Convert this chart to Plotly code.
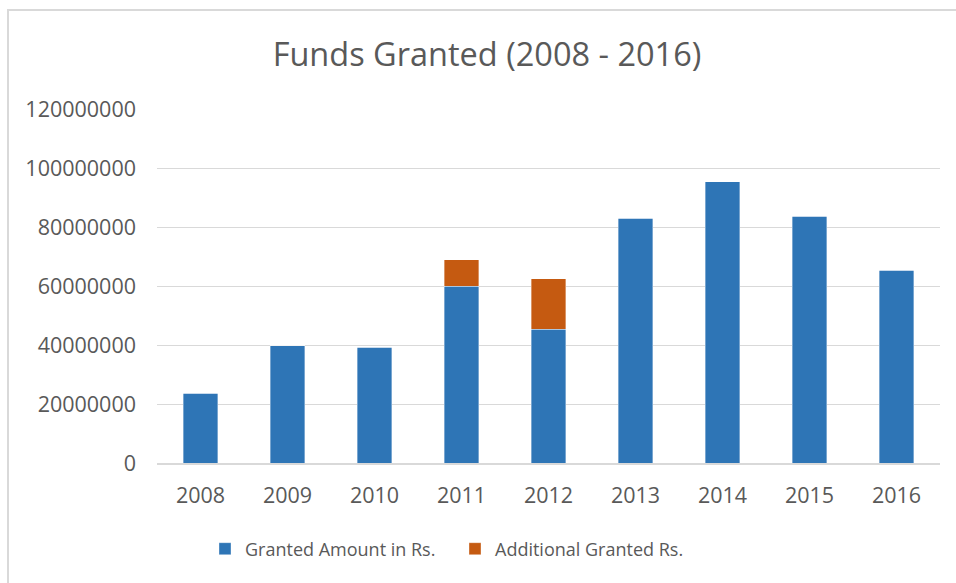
import plotly.graph_objects as go

years = ["2008", "2009", "2010", "2011", "2012", "2013", "2014", "2015", "2016"]
granted = [23600000, 39800000, 39300000, 60000000, 45300000, 83000000, 95300000, 83600000, 65400000]
additional = [0, 0, 0, 8900000, 17100000, 0, 0, 0, 0]
y_ticks = [0, 20000000, 40000000, 60000000, 80000000, 100000000, 120000000]

FONT = "Open Sans"
GRAY = "#595959"
GRID = "#d9d9d9"

fig = go.Figure()
fig.add_trace(go.Bar(x=years, y=granted, name="Granted Amount in Rs.",
                     marker=dict(color="#2E75B6", line=dict(width=0.6, color="rgba(255,255,255,0.6)"))))
fig.add_trace(go.Bar(x=years, y=additional, name="Additional Granted Rs.",
                     marker=dict(color="#C55A11", line=dict(width=0.6, color="rgba(255,255,255,0.6)"))))

W, H = 956, 583
L, R, T, B = 157, 16, 109, 120
pw = W - L - R
ph = H - T - B

def px_x(x):
    return (x - L) / pw

def px_y(y):
    return (H - B - y) / ph

fig.update_layout(
    width=W, height=H,
    barmode="stack", bargap=0.6,
    margin=dict(l=L, r=R, t=T, b=B),
    paper_bgcolor="white", plot_bgcolor="white",
    font=dict(family=FONT, color=GRAY, size=19),
    title=dict(text="Funds Granted (2008 - 2016)", font=dict(family=FONT, size=32.5, color=GRAY),
               x=487 / W, xanchor="center", xref="container",
               y=1 - 55 / H, yanchor="middle", yref="container"),
    showlegend=True,
    legend=dict(orientation="h", x=px_x(205), xanchor="left", y=px_y(549), yanchor="middle",
                font=dict(family=FONT, size=18, color=GRAY), traceorder="normal",
                entrywidth=205, entrywidthmode="pixels"),
    xaxis=dict(showgrid=False, showline=True, linecolor=GRID, linewidth=1.5,
               tickfont=dict(family=FONT, size=21.5, color=GRAY), ticks="", ticklabelstandoff=12),
    yaxis=dict(range=[0, 120000000], tickvals=y_ticks, ticktext=[str(v) for v in y_ticks],
               showgrid=True, gridcolor=GRID, gridwidth=1.2, zeroline=False,
               tickfont=dict(family=FONT, size=21.5, color=GRAY), ticks="", ticklabelstandoff=20),
    shapes=[dict(type="rect", xref="paper", yref="paper",
                 x0=px_x(8), x1=px_x(990), y0=px_y(620), y1=px_y(10),
                 line=dict(color=GRID, width=2), fillcolor="rgba(0,0,0,0)", layer="below")],
)

fig.write_html("out.html", config={"displayModeBar": False},
               post_script="document.body.style.margin='0';document.body.style.overflow='hidden';")
